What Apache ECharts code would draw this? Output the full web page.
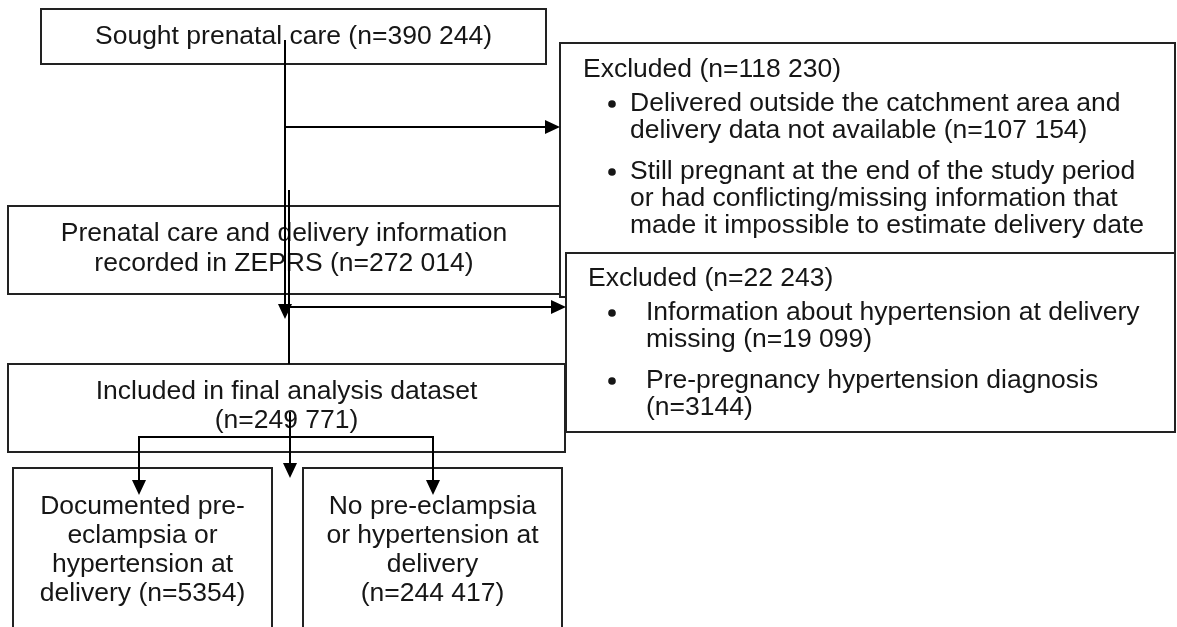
<!DOCTYPE html>
<html><head><meta charset="utf-8">
<script src="https://cdn.jsdelivr.net/npm/echarts@6/dist/echarts.min.js"></script>
<style>html,body{margin:0;padding:0;background:#fff}#c{width:1177px;height:627px}</style>
</head><body><div id="c"></div>
<script>
// ---- content (texts and counts) ----
const stageLabels = ['Sought prenatal care', 'Prenatal care and delivery information\nrecorded in ZEPRS', 'Included in final analysis dataset\n'];
const stageCounts = ['390 244', '272 014', '249 771'];
const outcomeLabels = ['Documented pre-\neclampsia or\nhypertension at\ndelivery', 'No pre-eclampsia\nor hypertension at\ndelivery\n'];
const outcomeCounts = ['5354', '244 417'];
const exclusionTitles = ['Excluded', 'Excluded'];
const exclusionTotals = ['118 230', '22 243'];
const exclusion1Reasons = ['Delivered outside the catchment area and\ndelivery data not available', 'Still pregnant at the end of the study period\nor had conflicting/missing information that\nmade it impossible to estimate delivery date'];
const exclusion1Counts = ['107 154', null];
const exclusion2Reasons = ['Information about hypertension at delivery\nmissing', 'Pre-pregnancy hypertension diagnosis\n'];
const exclusion2Counts = ['19 099', '3144'];

function fmt(label, n) {
  if (!n) return label;
  return label + (label.endsWith('\n') ? '' : ' ') + '(n=' + n + ')';
}

// ---- layout (chart coordinates = pixels on hidden axes) ----
const FONT = '26.5px "Liberation Sans", Arial, sans-serif';
const centerBoxes = [
  { r: [41, 9, 546, 64], cy: 37, lh: 30, text: fmt(stageLabels[0], stageCounts[0]) },
  { r: [8, 206, 560, 294], cy: 249, lh: 30, text: fmt(stageLabels[1], stageCounts[1]) },
  { r: [8, 364, 565, 452], cy: 406, lh: 29, text: fmt(stageLabels[2], stageCounts[2]) },
  { r: [13, 468, 272, 660], cy: 550, lh: 29, text: fmt(outcomeLabels[0], outcomeCounts[0]) },
  { r: [303, 468, 562, 660], cy: 550, lh: 29, text: fmt(outcomeLabels[1], outcomeCounts[1]) }
];
const sideBoxes = [
  { r: [560, 43, 1175, 297], tx: 583, ty: 70, bx: 612, txt: 630, by: [104, 172], lh: 27,
    title: fmt(exclusionTitles[0], exclusionTotals[0]),
    items: exclusion1Reasons.map((s, i) => fmt(s, exclusion1Counts[i])) },
  { r: [566, 253, 1175, 432], tx: 588, ty: 279, bx: 612, txt: 646, by: [313, 381], lh: 27,
    title: fmt(exclusionTitles[1], exclusionTotals[1]),
    items: exclusion2Reasons.map((s, i) => fmt(s, exclusion2Counts[i])) }
];
const connectors = [
  { pts: [[285, 40], [285, 319]], arrow: true },
  { pts: [[285, 127], [560, 127]], arrow: true },
  { pts: [[289, 190], [289, 364]], arrow: false },
  { pts: [[289, 307], [566, 307]], arrow: true },
  { pts: [[290, 412], [290, 478]], arrow: true },
  { pts: [[290, 437], [139, 437], [139, 495]], arrow: true },
  { pts: [[290, 437], [433, 437], [433, 495]], arrow: true }
];

const chart = echarts.init(document.getElementById('c'), null, { renderer: 'canvas' });
const STROKE = '#222';
const TEXT = '#161616';

function boxItem(params, api) {
  const all = sideBoxes.map(b => ({ side: b })).concat(centerBoxes.map(b => ({ center: b })));
  const it = all[params.dataIndex];
  const b = it.side || it.center;
  const p0 = api.coord([b.r[0], b.r[1]]);
  const p1 = api.coord([b.r[2], b.r[3]]);
  const children = [{
    type: 'rect',
    shape: { x: p0[0], y: p0[1], width: p1[0] - p0[0], height: p1[1] - p0[1] },
    style: { fill: '#fff', stroke: STROKE, lineWidth: 2 }
  }];
  if (it.center) {
    const c = api.coord([(b.r[0] + b.r[2]) / 2, b.cy]);
    children.push({ type: 'text', style: { text: b.text, x: c[0], y: c[1], font: FONT, fill: TEXT, align: 'center', verticalAlign: 'middle', lineHeight: b.lh } });
  } else {
    const t = api.coord([b.tx, b.ty]);
    children.push({ type: 'text', style: { text: b.title, x: t[0], y: t[1], font: FONT, fill: TEXT, align: 'left', verticalAlign: 'middle' } });
    b.items.forEach((s, i) => {
      const bp = api.coord([b.bx, b.by[i]]);
      const tp = api.coord([b.txt, b.by[i] - b.lh / 2]);
      children.push({ type: 'circle', shape: { cx: bp[0], cy: bp[1], r: 3.8 }, style: { fill: TEXT } });
      children.push({ type: 'text', style: { text: s, x: tp[0], y: tp[1], font: FONT, fill: TEXT, align: 'left', verticalAlign: 'top', lineHeight: b.lh } });
    });
  }
  return { type: 'group', children };
}

function connItem(params, api) {
  const c = connectors[params.dataIndex];
  const pts = c.pts.map(p => api.coord(p));
  const children = [];
  const HL = 15, HW = 7;
  let line = pts.slice();
  if (c.arrow) {
    const a = pts[pts.length - 2], t = pts[pts.length - 1];
    const dx = t[0] - a[0], dy = t[1] - a[1];
    const len = Math.hypot(dx, dy), ux = dx / len, uy = dy / len;
    const bx = t[0] - ux * HL, by = t[1] - uy * HL;
    line[line.length - 1] = [bx + ux * 2, by + uy * 2];
    children.push({ type: 'polygon', shape: { points: [t, [bx - uy * HW, by + ux * HW], [bx + uy * HW, by - ux * HW]] }, style: { fill: '#000' } });
  }
  children.unshift({ type: 'polyline', shape: { points: line }, style: { stroke: '#000', lineWidth: 2, fill: null } });
  return { type: 'group', children };
}

chart.setOption({
  animation: false,
  backgroundColor: '#fff',
  grid: { left: 0, right: 0, top: 0, bottom: 0 },
  xAxis: { type: 'value', min: 0, max: 1177, show: false },
  yAxis: { type: 'value', min: 0, max: 627, inverse: true, show: false },
  series: [
    { type: 'custom', name: 'boxes', coordinateSystem: 'cartesian2d', renderItem: boxItem, silent: true,
      data: sideBoxes.concat(centerBoxes).map((b, i) => [i, 0]), z: 1 },
    { type: 'custom', name: 'arrows', coordinateSystem: 'cartesian2d', renderItem: connItem, silent: true,
      data: connectors.map((c, i) => [i, 0]), z: 2 }
  ]
});
</script></body></html>
